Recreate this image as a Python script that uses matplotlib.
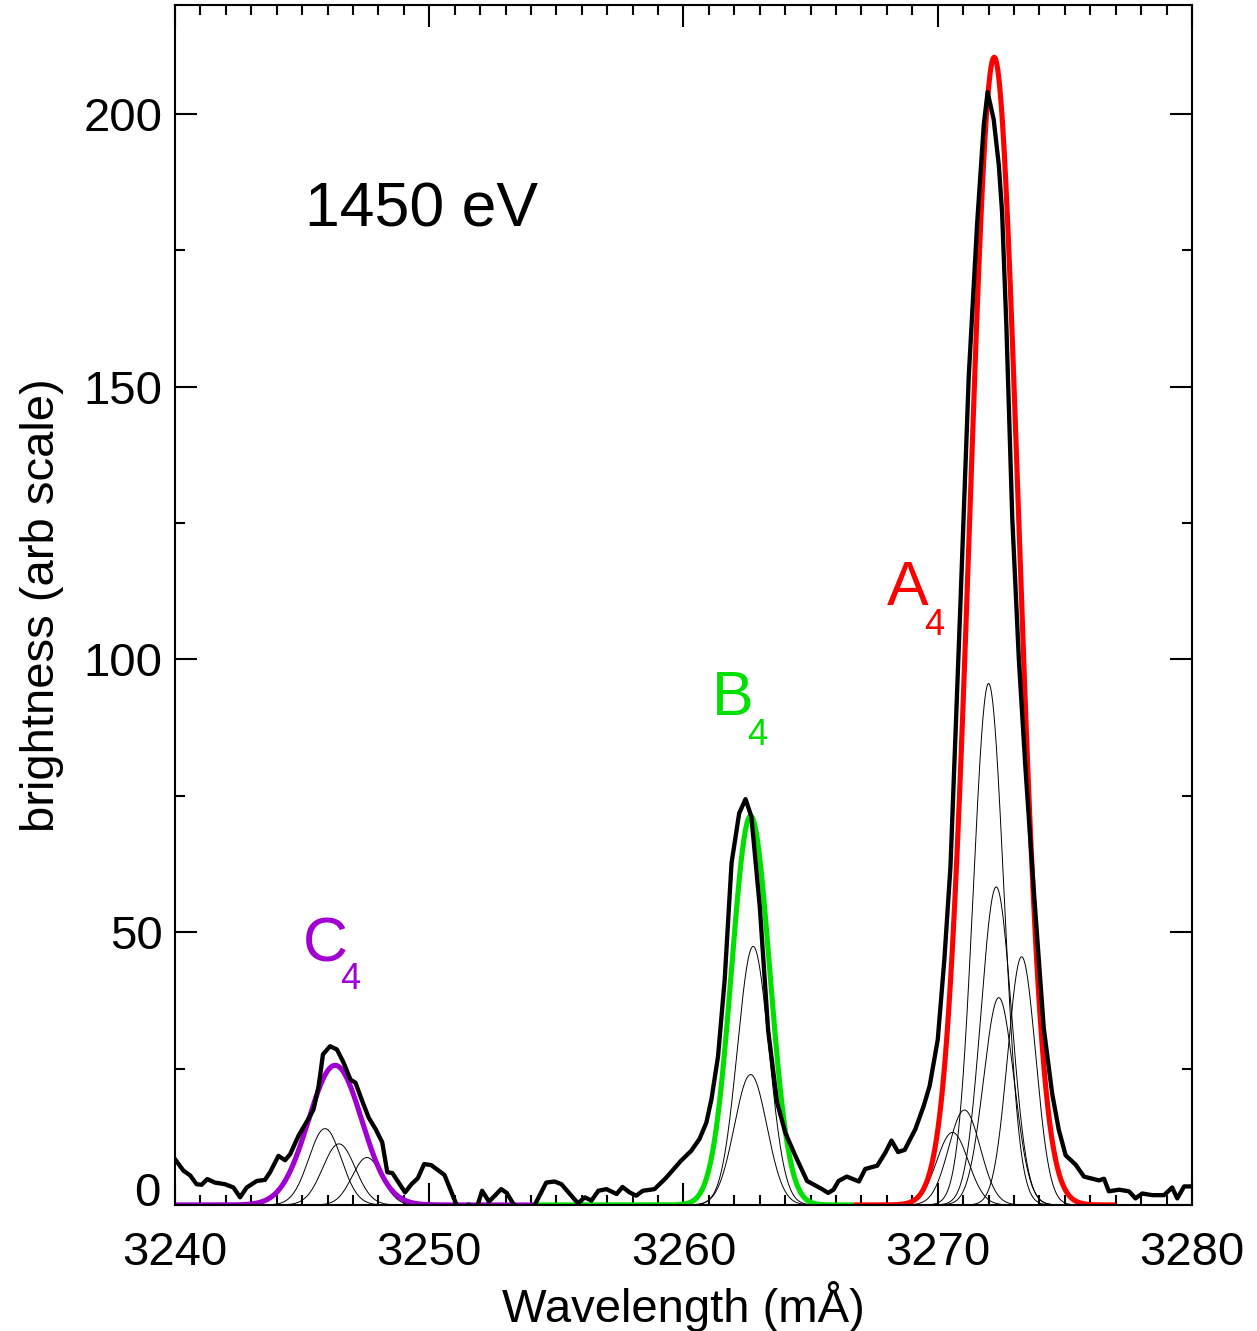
import matplotlib.pyplot as plt
import numpy as np
from matplotlib.ticker import MultipleLocator, FuncFormatter

plt.rcParams['font.family'] = ['Liberation Sans', 'DejaVu Sans']

wave = [3240.0, 3240.33, 3240.6, 3240.85, 3241.05, 3241.27, 3241.57, 3241.97, 3242.3, 3242.56,
        3242.82, 3243.22, 3243.54, 3243.74, 3244.07, 3244.33, 3244.53, 3244.86, 3245.25, 3245.45,
        3245.65, 3245.82, 3246.1, 3246.37, 3246.63, 3246.9, 3247.1, 3247.36, 3247.62, 3247.89,
        3248.15, 3248.35, 3248.55, 3248.88, 3249.05, 3249.3, 3249.55, 3249.8, 3250.08, 3250.6,
        3251.05, 3251.3, 3251.55, 3251.8, 3252.08, 3252.35, 3252.83, 3253.05, 3253.28, 3253.6,
        3253.9, 3254.15, 3254.6, 3254.93, 3255.2, 3255.85, 3256.12, 3256.38, 3256.65, 3256.97,
        3257.37, 3257.6, 3257.88, 3258.14, 3258.4, 3258.86, 3259.32, 3259.9, 3260.3, 3260.63,
        3260.9, 3261.1, 3261.36, 3261.62, 3261.89, 3262.19, 3262.44, 3262.67, 3263.0, 3263.33,
        3263.68, 3264.0, 3264.4, 3264.86, 3265.25, 3265.45, 3265.69, 3265.9, 3266.1, 3266.42,
        3266.9, 3267.15, 3267.62, 3267.94, 3268.18, 3268.44, 3268.7, 3269.12, 3269.45, 3269.68,
        3270.0, 3270.26, 3270.5, 3270.89, 3271.22, 3271.55, 3271.81, 3271.96, 3272.2, 3272.4,
        3272.53, 3272.7, 3272.93, 3273.19, 3273.45, 3273.78, 3274.17, 3274.5, 3274.76, 3275.03,
        3275.42, 3275.75, 3276.34, 3276.54, 3276.73, 3277.13, 3277.52, 3277.78, 3278.04, 3278.43,
        3278.9, 3279.22, 3279.42, 3279.69, 3280.0]
bright = [8.4, 6.3, 5.4, 3.8, 3.7, 4.75, 4.1, 3.8, 3.2, 1.4,
          3.2, 4.4, 4.6, 6.0, 9.0, 8.2, 9.3, 12.7, 15.8, 17.5,
          21.8, 27.6, 29.1, 28.5, 26.1, 23.0, 22.4, 19.1, 16.0, 13.9,
          11.5, 6.0, 5.85, 3.5, 2.3, 3.8, 4.9, 7.5, 7.3, 5.5,
          0.3, -1.5, 0.1, -1.5, 2.6, 0.6, 2.9, 2.2, 0.4, -1.5,
          -1.0, 0.0, 4.1, 4.3, 3.8, 0.3, 1.4, 0.8, 2.6, 2.9,
          2.0, 3.3, 2.3, 1.7, 2.6, 2.9, 5.0, 8.1, 9.9, 12.1,
          15.1, 19.4, 27.3, 41.3, 62.7, 71.8, 74.4, 71.2, 54.7, 32.0,
          18.8, 13.3, 9.0, 4.4, 3.4, 2.9, 2.2, 2.8, 4.4, 5.2,
          4.3, 6.6, 7.2, 9.6, 11.8, 9.7, 10.1, 13.9, 18.2, 21.8,
          30.3, 45.0, 62.0, 110.0, 152.0, 180.0, 198.0, 204.0, 199.0, 190.7,
          182.0, 161.0, 126.0, 100.0, 80.0, 57.5, 32.4, 20.4, 13.8, 9.1,
          7.4, 5.2, 4.5, 4.8, 2.5, 2.8, 2.5, 1.2, 2.1, 1.8,
          1.8, 3.2, 1.2, 3.4, 3.4]

# single-gaussian fits for the three lines (C4, B4, A4)
fit_label = ['C', 'B', 'A']
fit_color = ['#a000d0', '#00e000', '#ff0000']
fit_centre = [3246.3, 3262.64, 3272.22]
fit_peak = [25.6, 71.3, 210.4]
fit_sigma = [1.05, 0.75, 0.95]
fit_lo = [3240.0, 3254.1, 3266.7]
fit_hi = [3254.1, 3266.7, 3277.0]

# thin component gaussians
comp_centre = [3245.9, 3246.45, 3247.55,
               3262.74, 3262.64,
               3270.58, 3271.05, 3272.0, 3272.3, 3272.4, 3273.3]
comp_peak = [14.0, 11.2, 8.7,
             47.4, 23.9,
             13.3, 17.4, 95.6, 58.3, 38.0, 45.5]
comp_sigma = [0.64, 0.64, 0.58,
              0.62, 0.64,
              0.62, 0.62, 0.6, 0.6, 0.6, 0.55]
comp_group = [0, 0, 0, 1, 1, 2, 2, 2, 2, 2, 2]

# label positions (text left / baseline) for the line names
lab_x = [3245.03, 3261.1, 3268.0]
lab_y = [44.6, 89.8, 109.9]
sub_x = [3246.48, 3262.51, 3269.47]
sub_y = [39.5, 84.3, 104.4]


def gauss(x, c, a, s):
    return a * np.exp(-0.5 * ((x - c) / s) ** 2)


fig = plt.figure(figsize=(12.57, 13.31), dpi=100)
ax = fig.add_axes([0.1392, 0.0947, 0.8091, 0.9016])

for c, a, s, g in zip(comp_centre, comp_peak, comp_sigma, comp_group):
    xx = np.linspace(fit_lo[g], fit_hi[g], 600)
    ax.plot(xx, gauss(xx, c, a, s), color='black', lw=0.7)

for i in range(3):
    xx = np.linspace(fit_lo[i], fit_hi[i], 800)
    ax.plot(xx, gauss(xx, fit_centre[i], fit_peak[i], fit_sigma[i]),
            color=fit_color[i], lw=3.7, solid_capstyle='butt')
    ax.text(lab_x[i], lab_y[i], fit_label[i], color=fit_color[i], fontsize=45,
            ha='left', va='baseline')
    ax.text(sub_x[i], sub_y[i], '4', color=fit_color[i], fontsize=26,
            ha='left', va='baseline')

ax.plot(wave, bright, color='black', lw=3.1)

ax.text(3245.1, 179.3, '1450 eV', fontsize=45, ha='left', va='baseline')

ax.set_xlim(3240, 3280)
ax.set_ylim(0, 220)
ax.xaxis.set_major_locator(MultipleLocator(10))
ax.xaxis.set_minor_locator(MultipleLocator(1))
ax.yaxis.set_major_locator(MultipleLocator(50))
ax.yaxis.set_minor_locator(MultipleLocator(25))
# the zero label sits just above its tick, drawn separately below
ax.yaxis.set_major_formatter(FuncFormatter(lambda v, p: '' if v == 0 else f'{v:.0f}'))
ax.tick_params(which='both', direction='in', top=True, right=True, width=1.5)
ax.tick_params(which='major', length=16, labelsize=34)
ax.tick_params(which='minor', length=7.5)
ax.tick_params(axis='x', which='major', pad=19)
ax.tick_params(axis='y', which='major', pad=9)
for sp in ax.spines.values():
    sp.set_linewidth(1.5)

ax.text(-0.0145, -0.009, '0', transform=ax.transAxes, fontsize=34,
        ha='right', va='bottom')

ax.set_xlabel('Wavelength (mÅ)', fontsize=34, labelpad=4)
ax.set_ylabel('brightness (arb scale)', fontsize=34, labelpad=14)

fig.savefig('out.png', dpi=100)
